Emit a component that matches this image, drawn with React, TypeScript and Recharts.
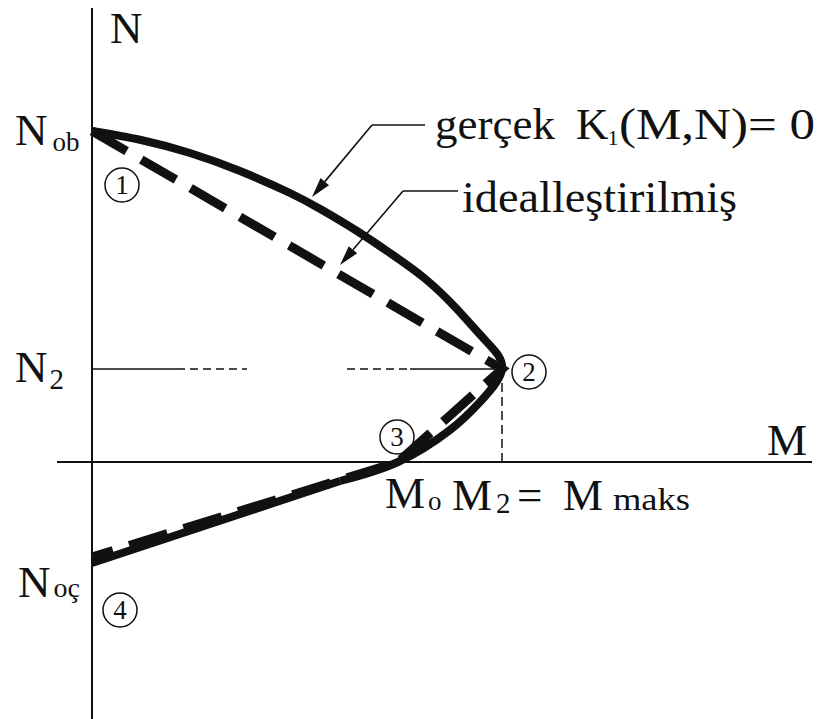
import { LineChart, Line, XAxis, YAxis, ReferenceLine, ReferenceDot } from 'recharts';

// Key values of the M-N interaction diagram
const N_OB = 3.31; // pure compression capacity
const N_2 = 0.93; // axial load at the balance point
const M_2 = 4.1; // M2 = M maks
const M_O = 3.06; // pure bending capacity
const N_OC = -1.01; // pure tension capacity
const N_OC_IDEAL = -0.95;

// Real curve K1(M,N) = 0: straight tension branch...
const realTension = [
  { m: 0, n: N_OC },
  { m: 2.48, n: -0.19 },
];

// ...and the curved branch through point 2 up to N_ob
const realCurve = [
  { m: 2.48, n: -0.19 },
  { m: M_O, n: 0 },
  { m: 3.58, n: 0.32 },
  { m: 3.88, n: 0.6 },
  { m: M_2, n: N_2 },
  { m: 3.93, n: 1.22 },
  { m: 3.63, n: 1.55 },
  { m: 3.31, n: 1.85 },
  { m: 2.98, n: 2.09 },
  { m: 2.65, n: 2.31 },
  { m: 2.3, n: 2.52 },
  { m: 1.98, n: 2.69 },
  { m: 1.48, n: 2.91 },
  { m: 0.98, n: 3.09 },
  { m: 0.49, n: 3.22 },
  { m: 0, n: N_OB },
];

// Idealised polygon 1-2-3-4
const idealCurve = [
  { m: 0, n: N_OB },
  { m: M_2, n: N_2 },
  { m: M_O, n: 0 },
  { m: 0, n: N_OC_IDEAL },
];

const circledNumbers = ['1', '2', '3', '4'];

const INK = '#111';
const serif = { fontFamily: '"Liberation Serif", "Times New Roman", serif' };

const arrowShape = (p: any) => {
  const { x1, y1, x2, y2 } = p;
  const a = Math.atan2(y2 - y1, x2 - x1);
  const L = 20;
  const W = 5.5;
  const bx = x2 - L * Math.cos(a);
  const by = y2 - L * Math.sin(a);
  const px = -Math.sin(a) * W;
  const py = Math.cos(a) * W;
  return (
    <g>
      <line x1={x1} y1={y1} x2={bx} y2={by} stroke={INK} strokeWidth={1.6} />
      <polygon points={`${x2},${y2} ${bx + px},${by + py} ${bx - px},${by - py}`} fill={INK} />
    </g>
  );
};

const txt = (m: number, n: number, key: string, render: (x: number, y: number) => any) => (
  <ReferenceDot key={key} x={m} y={n} r={0} shape={(p: any) => render(p.cx, p.cy)} />
);

const circled = (m: number, n: number, label: string) =>
  txt(m, n, 'c' + label, (x, y) => (
    <g>
      <circle cx={x} cy={y} r={17} fill="none" stroke={INK} strokeWidth={1.5} />
      <text x={x} y={y + 9} textAnchor="middle" fontSize={27} style={serif} fill={INK}>
        {label}
      </text>
    </g>
  ));

const circlePos: [number, number][] = [
  [0.3, 2.77],
  [4.37, 0.9],
  [3.05, 0.25],
  [0.28, -1.48],
];

export default function App() {
  return (
    <div style={{ position: 'absolute', left: 0, top: 0, background: '#fff' }}>
      <LineChart width={832} height={719} margin={{ top: 0, right: 0, bottom: 0, left: 0 }}>
        <XAxis type="number" dataKey="m" domain={[-0.92, 7.4]} allowDataOverflow hide />
        <YAxis type="number" dataKey="n" domain={[-2.57, 4.62]} allowDataOverflow hide />

        {/* coordinate axes */}
        <ReferenceLine segment={[{ x: 0, y: 4.54 }, { x: 0, y: -2.57 }]} stroke={INK} strokeWidth={2} />
        <ReferenceLine segment={[{ x: -0.35, y: 0 }, { x: 7.2, y: 0 }]} stroke={INK} strokeWidth={2} />

        {/* guide lines to point 2 */}
        <ReferenceLine segment={[{ x: 0, y: N_2 }, { x: 0.85, y: N_2 }]} stroke={INK} strokeWidth={1.5} />
        <ReferenceLine segment={[{ x: 0.85, y: N_2 }, { x: 1.55, y: N_2 }]} stroke={INK} strokeWidth={1.5} strokeDasharray="8 5" />
        <ReferenceLine segment={[{ x: 2.55, y: N_2 }, { x: 3.18, y: N_2 }]} stroke={INK} strokeWidth={1.5} strokeDasharray="8 5" />
        <ReferenceLine segment={[{ x: 3.18, y: N_2 }, { x: M_2, y: N_2 }]} stroke={INK} strokeWidth={1.5} />
        <ReferenceLine segment={[{ x: M_2, y: N_2 }, { x: M_2, y: 0 }]} stroke={INK} strokeWidth={1.5} strokeDasharray="9 5" />

        {/* leaders */}
        <ReferenceLine segment={[{ x: 3.33, y: 3.37 }, { x: 2.8, y: 3.37 }]} stroke={INK} strokeWidth={1.6} />
        <ReferenceLine segment={[{ x: 2.8, y: 3.37 }, { x: 2.2, y: 2.65 }]} shape={arrowShape} />
        <ReferenceLine segment={[{ x: 3.66, y: 2.71 }, { x: 3.11, y: 2.71 }]} stroke={INK} strokeWidth={1.6} />
        <ReferenceLine segment={[{ x: 3.11, y: 2.71 }, { x: 2.48, y: 1.97 }]} shape={arrowShape} />

        <Line
          data={idealCurve}
          dataKey="n"
          type="linear"
          stroke={INK}
          strokeWidth={9}
          strokeDasharray="40 17"
          dot={false}
          activeDot={false}
          isAnimationActive={false}
        />
        <Line
          data={realTension}
          dataKey="n"
          type="linear"
          stroke={INK}
          strokeWidth={8}
          dot={false}
          activeDot={false}
          isAnimationActive={false}
        />
        <Line
          data={realCurve}
          dataKey="n"
          type="natural"
          stroke={INK}
          strokeWidth={8}
          dot={false}
          activeDot={false}
          isAnimationActive={false}
        />

        {circledNumbers.map((c, i) => circled(circlePos[i][0], circlePos[i][1], c))}

        {txt(0.18, 4.19, 'n', (x, y) => (
          <text x={x} y={y} fontSize={45} style={serif} fill={INK}>N</text>
        ))}
        {txt(-0.77, 3.17, 'nob', (x, y) => (
          <text x={x} y={y} fontSize={45} style={serif} fill={INK}>
            N<tspan fontSize={27} dx={5} dy={6}>ob</tspan>
          </text>
        ))}
        {txt(-0.77, 0.8, 'n2', (x, y) => (
          <text x={x} y={y} fontSize={45} style={serif} fill={INK}>
            N<tspan fontSize={29} dx={2} dy={7}>2</tspan>
          </text>
        ))}
        {txt(-0.74, -1.35, 'noc', (x, y) => (
          <text x={x} y={y} fontSize={45} style={serif} fill={INK}>
            N<tspan fontSize={28} dx={3}>oç</tspan>
          </text>
        ))}
        {txt(6.75, 0.07, 'm', (x, y) => (
          <text x={x} y={y} fontSize={45} style={serif} fill={INK}>M</text>
        ))}
        {txt(2.93, -0.46, 'mo', (x, y) => (
          <text x={x} y={y} fontSize={45} style={serif} fill={INK}>
            M<tspan fontSize={27} dx={3} dy={2}>o</tspan>
          </text>
        ))}
        {txt(3.6, -0.48, 'm2', (x, y) => (
          <text x={x} y={y} fontSize={45} style={serif} fill={INK}>
            M<tspan fontSize={29} dx={4} dy={3}>2</tspan>
          </text>
        ))}
        {txt(4.25, -0.48, 'eq', (x, y) => (
          <text x={x} y={y} fontSize={45} style={serif} fill={INK}>=</text>
        ))}
        {txt(4.71, -0.48, 'mm', (x, y) => (
          <text x={x} y={y} fontSize={45} style={serif} fill={INK}>M</text>
        ))}
        {txt(5.21, -0.48, 'maks', (x, y) => (
          <text x={x} y={y} fontSize={31} style={serif} fill={INK} textLength={77} lengthAdjust="spacingAndGlyphs">maks</text>
        ))}
        {txt(3.43, 3.23, 'gercek', (x, y) => (
          <text x={x} y={y} fontSize={45} style={serif} fill={INK}>gerçek</text>
        ))}
        {txt(4.84, 3.23, 'k1', (x, y) => (
          <text x={x} y={y} fontSize={45} style={serif} fill={INK}>
            K<tspan fontSize={22} dx={-1} dy={6}>1</tspan>
          </text>
        ))}
        {txt(5.27, 3.23, 'mn', (x, y) => (
          <text x={x} y={y} fontSize={45} style={serif} fill={INK} textLength={196} lengthAdjust="spacingAndGlyphs">(M,N)= 0</text>
        ))}
        {txt(3.7, 2.5, 'ideal', (x, y) => (
          <text x={x} y={y} fontSize={45} style={serif} fill={INK} textLength={275} lengthAdjust="spacingAndGlyphs">idealleştirilmiş</text>
        ))}
      </LineChart>
    </div>
  );
}
